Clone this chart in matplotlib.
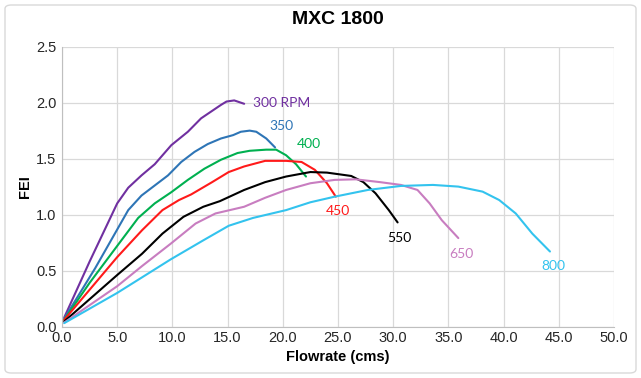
import matplotlib.pyplot as plt
import matplotlib.patches as patches

# flowrate (cms) / FEI
x300 = [0.2, 2.5, 5.0, 6.0, 7.2, 8.4, 9.9, 11.4, 12.6, 13.5, 14.4, 14.9, 15.6, 16.5]
y300 = [0.08, 0.58, 1.10, 1.24, 1.35, 1.45, 1.62, 1.74, 1.86, 1.92, 1.98, 2.01, 2.02, 1.99]

x350 = [0.2, 3.0, 6.0, 7.2, 8.4, 9.6, 10.8, 12.0, 13.2, 14.4, 15.5, 16.2, 17.0, 17.6, 18.5, 19.3]
y350 = [0.07, 0.52, 1.04, 1.17, 1.26, 1.35, 1.47, 1.56, 1.63, 1.68, 1.71, 1.74, 1.75, 1.74, 1.68, 1.60]

x400 = [0.2, 2.5, 5.0, 6.9, 8.4, 9.9, 11.4, 12.9, 14.4, 15.9, 17.0, 18.5, 19.4, 20.3, 21.2, 22.1]
y400 = [0.06, 0.39, 0.72, 0.97, 1.10, 1.20, 1.31, 1.41, 1.49, 1.55, 1.57, 1.58, 1.58, 1.53, 1.45, 1.34]

x450 = [0.2, 5.0, 7.25, 9.1, 10.6, 11.7, 13.6, 15.1, 16.5, 18.4, 20.3, 21.7, 22.9, 24.0, 24.8]
y450 = [0.06, 0.62, 0.86, 1.04, 1.13, 1.18, 1.29, 1.38, 1.43, 1.48, 1.48, 1.47, 1.40, 1.28, 1.16]

x550 = [0.2, 5.0, 7.25, 9.1, 11.0, 12.8, 14.3, 16.5, 18.4, 20.3, 22.5, 24.0, 26.2, 27.3, 28.4, 29.6, 30.4]
y550 = [0.045, 0.46, 0.65, 0.83, 0.98, 1.07, 1.12, 1.22, 1.29, 1.34, 1.38, 1.375, 1.345, 1.29, 1.19, 1.04, 0.93]

x650 = [0.2, 5.0, 7.25, 9.85, 12.1, 13.9, 16.5, 18.4, 20.3, 22.5, 24.7, 26.6, 28.8, 30.7, 32.2, 33.3, 34.4, 35.9]
y650 = [0.035, 0.36, 0.54, 0.74, 0.92, 1.01, 1.07, 1.15, 1.22, 1.28, 1.31, 1.315, 1.29, 1.265, 1.22, 1.10, 0.95, 0.79]

x800 = [0.2, 5.0, 9.85, 12.8, 15.1, 17.3, 20.3, 22.5, 24.7, 27.7, 30.7, 33.6, 35.9, 38.1, 39.6, 41.1, 42.6, 44.2]
y800 = [0.03, 0.30, 0.60, 0.77, 0.90, 0.97, 1.04, 1.11, 1.16, 1.22, 1.256, 1.265, 1.25, 1.205, 1.13, 1.01, 0.83, 0.67]

labels = ['300 RPM', '350', '400', '450', '550', '650', '800']
label_x = [19.9, 19.9, 22.4, 25.0, 30.6, 36.2, 44.5]
label_y = [2.0, 1.79, 1.63, 1.03, 0.79, 0.65, 0.54]
colors = ['#7030A0', '#2E75B6', '#00B050', '#FF1A1A', '#000000', '#C87DC0', '#33C3EE']

xs = [x300, x350, x400, x450, x550, x650, x800]
ys = [y300, y350, y400, y450, y550, y650, y800]

fig = plt.figure(figsize=(6.41, 3.78), dpi=100)
ax = fig.add_axes([62/641, 1-326.5/378, (614-62)/641, (326.5-46.7)/378])

for x, y, c in zip(xs, ys, colors):
    ax.plot(x, y, color=c, lw=1.5, solid_joinstyle='round', solid_capstyle='round')

for t, lx, ly, c in zip(labels, label_x, label_y, colors):
    ax.text(lx, ly, t, color=c, fontsize=10, family='Lato', ha='center', va='center')

ax.set_xlim(0, 50)
ax.set_ylim(0, 2.5)
ax.set_xticks([i * 5 for i in range(11)])
ax.set_yticks([i * 0.5 for i in range(6)])
ax.set_xticklabels(['%.1f' % (i * 5) for i in range(11)])
ax.set_yticklabels(['%.1f' % (i * 0.5) for i in range(6)])
ax.tick_params(axis='x', length=0, labelsize=10.5, labelcolor='#262626', pad=3)
ax.tick_params(axis='y', length=0, labelsize=10.5, labelcolor='#262626', pad=4)
for lab in ax.get_xticklabels() + ax.get_yticklabels():
    lab.set_family('Liberation Sans')
ax.grid(color='#D9D9D9', lw=0.9)
ax.set_axisbelow(True)
for s in ['top', 'right']:
    ax.spines[s].set_visible(False)
for s in ['left', 'bottom']:
    ax.spines[s].set_color('#BFBFBF')

ax.set_xlabel('Flowrate (cms)', fontsize=10.5, fontweight='bold', family='Liberation Sans', labelpad=4)
ax.set_ylabel('FEI', fontsize=10.5, fontweight='bold', family='Liberation Sans')
ax.yaxis.set_label_coords(-0.055, 0.5)
fig.text(0.5 * (62 + 614) / 641, 1 - 20 / 378, 'MXC 1800', ha='center', va='center',
         fontsize=14, fontweight='bold', family='Liberation Sans')

fig.patches.append(patches.FancyBboxPatch((5/641, 5/378), 631/641, 368/378,
                                          boxstyle='round,pad=0,rounding_size=0.01',
                                          transform=fig.transFigure, fill=False,
                                          edgecolor='#D9D9D9', lw=1))

fig.savefig('out.png', dpi=100)
